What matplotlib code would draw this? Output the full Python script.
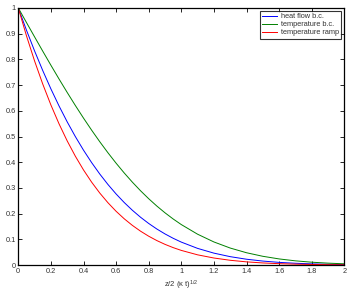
import matplotlib
matplotlib.use("Agg")
import matplotlib.pyplot as plt

plt.rcParams['font.family'] = ['Liberation Sans', 'DejaVu Sans']
plt.rcParams['mathtext.fontset'] = 'custom'
plt.rcParams['mathtext.rm'] = 'Liberation Sans'
plt.rcParams['mathtext.it'] = 'Liberation Sans'

x = [0.0, 0.05, 0.1, 0.15, 0.2, 0.25, 0.3, 0.35, 0.4, 0.45, 0.5, 0.55, 0.6,
     0.65, 0.7, 0.75, 0.8, 0.85, 0.9, 0.95, 1.0,
     1.1, 1.2, 1.3, 1.4, 1.5, 1.6, 1.7, 1.8, 1.9, 2.0]
heat_flow = [1.0, 0.91388, 0.83274, 0.75655, 0.68524, 0.61874, 0.55694, 0.49970,
             0.44688, 0.39833, 0.35385, 0.31327, 0.27640, 0.24299, 0.21287,
             0.18581, 0.16160, 0.14003, 0.12089, 0.10397, 0.08907,
             0.06465, 0.04616, 0.03247, 0.02247,
             0.01530, 0.01023, 0.00674, 0.00435, 0.00277, 0.00173]
temperature = [1.0, 0.94363, 0.88754, 0.83200, 0.77730, 0.72367, 0.67137, 0.62062,
               0.57161, 0.52452, 0.47950, 0.43668, 0.39614, 0.35797, 0.32220,
               0.28884, 0.25790, 0.22933, 0.20309, 0.17911, 0.15730,
               0.11979, 0.08969, 0.06599, 0.04771,
               0.03389, 0.02365, 0.01621, 0.01091, 0.00721, 0.00468]
ramp = [1.0, 0.89207, 0.79358, 0.70395, 0.62266, 0.54913, 0.48284, 0.42327,
        0.36991, 0.32226, 0.27986, 0.24226, 0.20901, 0.17975, 0.15406,
        0.13160, 0.11202, 0.09503, 0.08032, 0.06766, 0.05680,
        0.03955, 0.02719, 0.01836, 0.01221,
        0.00799, 0.00518, 0.00328, 0.00207, 0.00127, 0.00078]
labels = ['heat flow b.c.', 'temperature b.c.', 'temperature ramp']
xticks = [0, 0.2, 0.4, 0.6, 0.8, 1, 1.2, 1.4, 1.6, 1.8, 2]
xticklabels = ['0', '0.2', '0.4', '0.6', '0.8', '1', '1.2', '1.4', '1.6', '1.8', '2']
yticks = [0, 0.1, 0.2, 0.3, 0.4, 0.5, 0.6, 0.7, 0.8, 0.9, 1]
yticklabels = ['0', '0.1', '0.2', '0.3', '0.4', '0.5', '0.6', '0.7', '0.8', '0.9', '1']

fig = plt.figure(figsize=(3.51, 2.92), dpi=100)
ax = fig.add_axes([18.3/351, 1-265/292, (344.3-18.3)/351, (265-8)/292])
ax.plot(x, heat_flow, color=(0, 0, 1), lw=0.7, label=labels[0])
ax.plot(x, temperature, color=(0, 0.5, 0), lw=0.7, label=labels[1])
ax.plot(x, ramp, color=(1, 0, 0), lw=0.7, label=labels[2])
ax.set_xlim(0, 2)
ax.set_ylim(0, 1)
ax.set_xticks(xticks)
ax.set_xticklabels(xticklabels)
ax.set_yticks(yticks)
ax.set_yticklabels(yticklabels)
ax.tick_params(direction='in', top=True, right=True, length=3, width=0.6,
               labelsize=5.3, pad=2, colors='black', labelcolor='#333333')
for s in ax.spines.values():
    s.set_linewidth(0.9)
ax.set_xlabel('z/2 (κ t)$^{1/2}$', fontsize=5.5, labelpad=3, color='#333333')
leg = ax.legend(loc='upper right', fontsize=5.3, frameon=True, fancybox=False,
                edgecolor='black', borderaxespad=0.4, handlelength=2.0,
                labelspacing=0.12, borderpad=0.3, handletextpad=0.6)
leg.get_frame().set_linewidth(0.8)
for t in leg.get_texts():
    t.set_color('#333333')
fig.savefig('out.png', dpi=100)
